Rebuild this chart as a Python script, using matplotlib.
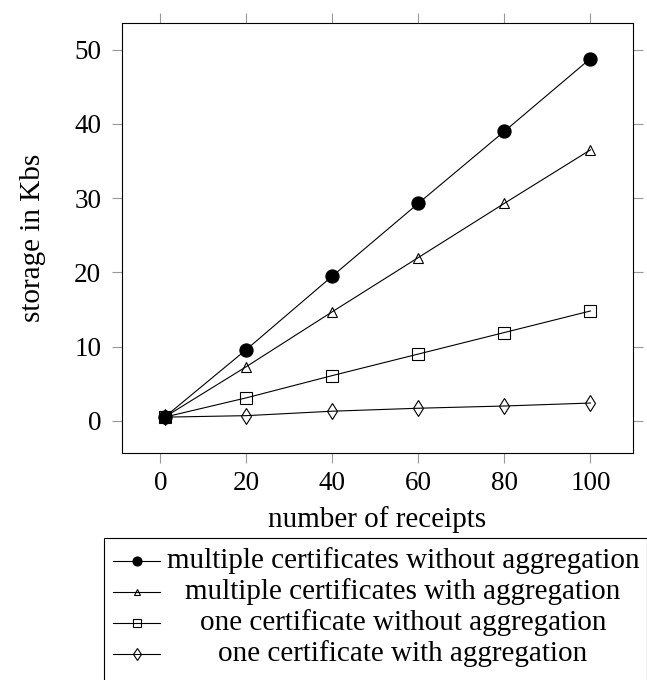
import matplotlib
matplotlib.use("Agg")
import matplotlib.pyplot as plt
from matplotlib.lines import Line2D
from matplotlib.patches import Rectangle

receipts = [1, 20, 40, 60, 80, 100]
multi_no_agg = [0.5, 9.6, 19.5, 29.3, 39.0, 48.8]
multi_agg = [0.5, 7.3, 14.7, 22.0, 29.3, 36.5]
one_no_agg = [0.5, 3.1, 6.1, 9.0, 11.9, 14.8]
one_agg = [0.5, 0.7, 1.3, 1.7, 2.0, 2.4]

labels = [
    "multiple certificates without aggregation",
    "multiple certificates with aggregation",
    "one certificate without aggregation",
    "one certificate with aggregation",
]
xticks = [0, 20, 40, 60, 80, 100]
yticks = [0, 10, 20, 30, 40, 50]

plt.rcParams["font.family"] = ["Liberation Serif", "DejaVu Serif"]
plt.rcParams["font.size"] = 21

W, H = 647, 680
fig = plt.figure(figsize=(W / 100, H / 100), dpi=100)


def fx(px):
    return px / W


def fy(py):
    return 1 - py / H


ax = fig.add_axes([fx(122), fy(453), fx(633) - fx(122), fy(22.7) - fy(453)])

# pgfplots: filled circle, hollow triangle / square / diamond
styles = [
    dict(marker="o", markersize=9.5, markerfacecolor="black"),
    dict(marker="^", markersize=7.5, markerfacecolor="none"),
    dict(marker="s", markersize=8, markerfacecolor="none"),
    dict(marker="d", markersize=8.5, markerfacecolor="none"),
]
series = [multi_no_agg, multi_agg, one_no_agg, one_agg]

for ys, st in zip(series, styles):
    ax.plot(receipts, ys, color="black", linewidth=0.8,
            markeredgecolor="black", markeredgewidth=0.8, **st)

ax.set_xlim(-8.9, 109.9)
ax.set_ylim(-4.33, 53.63)
ax.set_xticks(xticks)
ax.set_yticks(yticks)
ax.tick_params(direction="out", length=7, width=0.8, color="#999999",
               top=True, right=True, labelsize=19.5)
ax.tick_params(axis="x", pad=6)
ax.tick_params(axis="y", pad=8)
for s in ax.spines.values():
    s.set_linewidth(0.8)

ax.set_xlabel("number of receipts", labelpad=7)
ax.set_ylabel("storage in Kbs", labelpad=20)

# legend box below the axes, pgfplots style (centred entries)
fig.add_artist(Rectangle((fx(104), fy(690)), fx(647) - fx(104), fy(538) - fy(690),
                         transform=fig.transFigure, fill=False,
                         edgecolor="black", linewidth=0.8))
row_y = [561, 592, 623, 654]
leg_sizes = [6.5, 5, 6, 6]
text_cx = 403
for ry, st, lab, ms in zip(row_y, styles, labels, leg_sizes):
    st2 = dict(st)
    st2["markersize"] = ms
    fig.add_artist(Line2D([fx(113), fx(160)], [fy(ry), fy(ry)],
                          transform=fig.transFigure, color="black",
                          linewidth=0.8))
    fig.add_artist(Line2D([fx(137)], [fy(ry)], transform=fig.transFigure,
                          linestyle="none", markeredgecolor="black",
                          markeredgewidth=0.8, **st2))
    fig.text(fx(text_cx), fy(ry), lab, ha="center", va="center")

fig.savefig("out.png", dpi=100)
